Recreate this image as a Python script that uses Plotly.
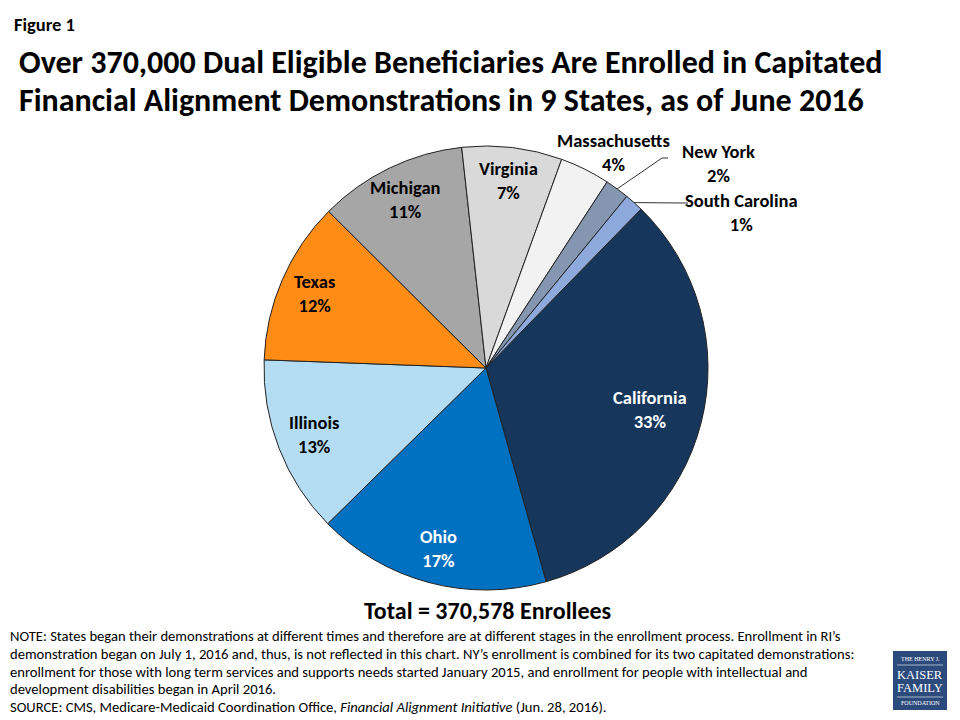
import math
import plotly.graph_objects as go

states = ["California", "Ohio", "Illinois", "Texas", "Michigan", "Virginia",
          "Massachusetts", "New York", "South Carolina"]
enrollees = [123500, 63000, 48000, 44000, 40000, 27000, 13500, 6500, 5078]
colors = ["#16365C", "#0070C0", "#B4DDF4", "#FF8C14", "#A6A6A6", "#D9D9D9",
          "#F2F2F2", "#8496B0", "#8EA9DB"]
label_colors = ["white", "white", "black", "black", "black", "black",
                "black", "black", "black"]
inside = [True, True, True, True, True, True, False, False, False]
label_r = [0.76, 0.84, 0.83, 0.84, 0.84, 0.85, 0, 0, 0]

W, H = 960, 720
OFF = 8  # page body margin compensation
CX, CY, R = 486, 368, 222
ROT = 44.3
FONT = "Carlito, Calibri, 'Liberation Sans Narrow', 'Open Sans', sans-serif"


def px2paper(x, y):
    return (x - OFF) / W, 1 - (y - OFF) / H


dx0, dy0 = px2paper(CX - R, CY + R)
dx1, dy1 = px2paper(CX + R, CY - R)

fig = go.Figure()
fig.add_trace(go.Pie(
    labels=states, values=enrollees, sort=False, direction="clockwise",
    rotation=ROT, marker=dict(colors=colors, line=dict(color="#222222", width=1)),
    textinfo="none", hoverinfo="label+percent", showlegend=False,
    domain=dict(x=[dx0, dx1], y=[dy0, dy1]),
))

total = sum(enrollees)
ann = []
shapes = []


def add_text(x, y, text, size, color="black", family=FONT, xanchor="center"):
    px, py = px2paper(x, y)
    ann.append(dict(x=px, y=py, xref="paper", yref="paper", text=text, showarrow=False,
                    xanchor=xanchor, yanchor="middle",
                    font=dict(family=family, size=size, color=color)))


cum = 0.0
mids = []
for v in enrollees:
    a0 = ROT + 360 * cum / total
    cum += v
    a1 = ROT + 360 * cum / total
    mids.append((a0 + a1) / 2)

LBL = 18.5
for i, s in enumerate(states):
    pct = round(100 * enrollees[i] / total)
    txt = f"<b>{s}<br>{pct}%</b>"
    if inside[i]:
        ang = math.radians(mids[i])
        x = CX + label_r[i] * R * math.sin(ang)
        y = CY - label_r[i] * R * math.cos(ang)
        add_text(x, y, txt, LBL, label_colors[i])

# outside labels
out_pos = {"Massachusetts": (613, 153), "New York": (718, 163), "South Carolina": (741, 212)}
for i, s in enumerate(states):
    if s in out_pos:
        pct = round(100 * enrollees[i] / total)
        x, y = out_pos[s]
        add_text(x, y, f"<b>{s}<br>{pct}%</b>", LBL)

# leader lines
elbows = {"New York": [(662, 158), (668, 158)], "South Carolina": [(682, 203), (688, 203)]}
for i, s in enumerate(states):
    if s in elbows:
        ang = math.radians(mids[i])
        x0 = CX + R * math.sin(ang)
        y0 = CY - R * math.cos(ang)
        pts = [(x0, y0)] + elbows[s]
        path = "M " + " L ".join(f"{px2paper(a, b)[0]},{px2paper(a, b)[1]}" for a, b in pts)
        shapes.append(dict(type="path", path=path, xref="paper", yref="paper",
                           line=dict(color="#333333", width=1)))

# titles
add_text(12, 24, "<b>Figure 1</b>", 18.5, xanchor="left")
add_text(17, 63, "<b>Over 370,000 Dual Eligible Beneficiaries Are Enrolled in Capitated</b>", 32, xanchor="left")
add_text(17, 101, "<b>Financial Alignment Demonstrations in 9 States, as of June 2016</b>", 32, xanchor="left")
add_text(487, 610, f"<b>Total = {total:,} Enrollees</b>", 24)

notes = [
    "NOTE: States began their demonstrations at different times and therefore are at different stages in the enrollment process. Enrollment in RI\u2019s",
    "demonstration began on July 1, 2016 and, thus, is not reflected in this chart. NY\u2019s enrollment is combined for its two capitated demonstrations:",
    "enrollment for those with long term services and supports needs started January 2015, and enrollment for people with intellectual and",
    "development disabilities began in April 2016.",
    "SOURCE: CMS, Medicare-Medicaid Coordination Office, <i>Financial Alignment Initiative</i> (Jun. 28, 2016).",
]
for k, line in enumerate(notes):
    add_text(8, 636 + 17.8 * k, line, 14.6, xanchor="left")

# logo
lx0, ly1 = px2paper(893, 651)
lx1, ly0 = px2paper(947, 710)
shapes.append(dict(type="rect", xref="paper", yref="paper", x0=lx0, x1=lx1, y0=ly0, y1=ly1,
                   fillcolor="#2C4A7C", line=dict(width=0)))
for yy in (665, 697):
    a, b = px2paper(897, yy)
    c, _ = px2paper(943, yy)
    shapes.append(dict(type="line", xref="paper", yref="paper", x0=a, x1=c, y0=b, y1=b,
                       line=dict(color="white", width=0.6)))
SERIF = "'Liberation Serif', 'DejaVu Serif', serif"
for t, yy, sz in [("THE HENRY J.", 659, 6), ("KAISER", 675, 12.5),
                  ("FAMILY", 688, 12.5), ("FOUNDATION", 703, 6)]:
    add_text(920, yy, t, sz, "white", SERIF)

fig.update_layout(width=W, height=H, margin=dict(l=0, r=0, t=0, b=0),
                  paper_bgcolor="white", plot_bgcolor="white",
                  annotations=ann, shapes=shapes)
fig.write_html("out.html")
